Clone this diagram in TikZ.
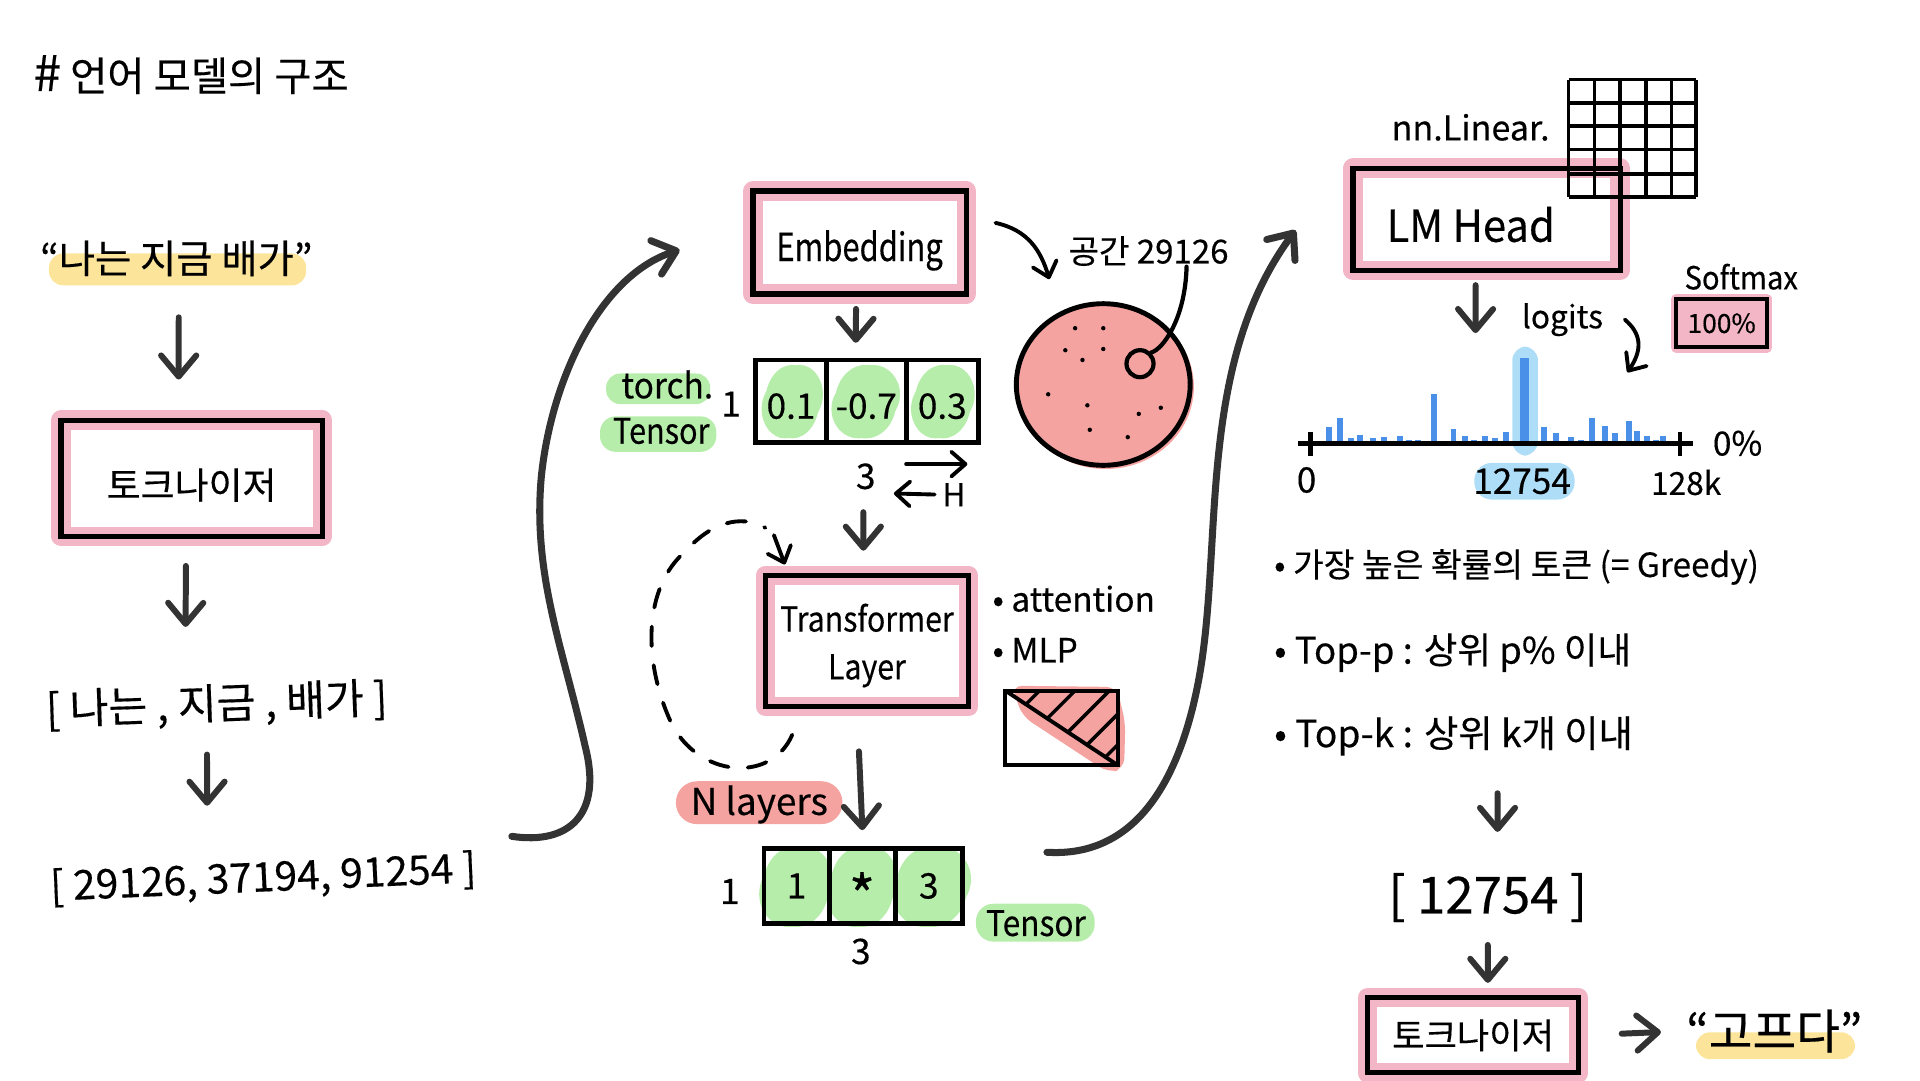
\documentclass[tikz,border=0pt]{standalone}
\usepackage{fontspec}
\setmainfont{Noto Sans CJK KR}[FakeBold=0.35]
\usetikzlibrary{arrows.meta}
\definecolor{softpink}{HTML}{F2B6C6}
\definecolor{salmon}{HTML}{F4A3A0}
\definecolor{softgreen}{HTML}{B7EDAA}
\definecolor{softyellow}{HTML}{FCE59A}
\definecolor{skyblue}{HTML}{AEDDF8}
\definecolor{barblue}{HTML}{4A90E8}
\definecolor{inkgray}{HTML}{333333}
\newcommand{\slimfont}[2]{\fontsize{#1}{#1}\selectfont\addfontfeature{FakeStretch=#2}}
\tikzset{
  >={Straight Barb[length=6pt,width=10pt,round]},
  hand/.style={inner sep=0pt,font=\fontsize{10}{12}\selectfont},
  pinkbox/.style={draw=black,line width=1.5pt,inner sep=0pt,preaction={draw=softpink,line width=5.5pt,line join=round}},
  cellbox/.style={draw=black,line width=1.4pt,inner sep=0pt,minimum height=.82cm,font=\fontsize{10}{12}\selectfont},
  arrowline/.style={->,draw=inkgray,line width=1.7pt,line cap=round},
  thinarrow/.style={->,draw=black,line width=1.1pt,line cap=round,>={Straight Barb[length=4pt,width=7pt,round]}},
}
\begin{document}
\begin{tikzpicture}[x=0.012245cm,y=-0.012245cm]
\useasboundingbox (0,0) rectangle (1568,882);
\fill [softyellow,rounded corners=4pt] (40,207) rectangle (250,233);
\fill [softyellow,rounded corners=4pt] (1385,843) rectangle (1515,865);
\fill [softgreen,rounded corners=4pt] (495,305) rectangle (580,330);
\fill [softgreen,rounded corners=4.5pt] (490,340) rectangle (585,369);
\fill [softgreen,rounded corners=5pt] (797,738) rectangle (894,769);
\fill [salmon,rounded corners=6pt] (552,638) rectangle (688,673);
\fill [skyblue,rounded corners=5pt] (1204,378) rectangle (1286,408);
\fill [skyblue,rounded corners=4pt] (1235,283) rectangle (1256,372);
\foreach \cx/\cy/\rw/\rh in {647/328/24/30,707/328/27/30,770/328/25/30,650/724/29/33,704/724/28/33,761/724/31/33}
{
  \fill [softgreen] (\cx-6,\cy+6) ellipse [x radius=\rw-5,y radius=\rh-6];
  \fill [softgreen] (\cx,\cy) ellipse [x radius=\rw-2,y radius=\rh];
  \fill [softgreen] (\cx+6,\cy-6) ellipse [x radius=\rw-5,y radius=\rh-6];
}

\node [hand,font=\fontsize{11.5}{14}\selectfont,anchor=west] (title) at (27,61) {{\fontsize{14}{14}\selectfont\#} 언어 모델의 구조};
\node [hand,font=\fontsize{11.2}{14}\selectfont] (quote) at (144,211) {“나는 지금 배가”};
\node [pinkbox,minimum width=2.61cm,minimum height=1.16cm,font=\fontsize{10.5}{13}\selectfont] (tokfirst) at (156.5,390.5) {\rule{0pt}{12.6pt}토크나이저};
\node [hand,font=\fontsize{12}{14}\selectfont,rotate=2] (wordlist) at (177,576) {[ 나는 , 지금 , 배가 ]};
\node [hand,font=\fontsize{11.6}{15}\selectfont,rotate=2.5] (idlist) at (215,718) {[ 29126, 37194, 91254 ]};

\node [pinkbox,minimum width=2.13cm,minimum height=1.03cm,font=\slimfont{11}{.8}] (embed) at (702,198) {\rule{0pt}{13.3pt}Embedding};
\node [cellbox,minimum width=.71cm] (cella) at (646,327.5) {\rule{0pt}{10.2pt}0.1};
\node [cellbox,minimum width=.80cm] (cellb) at (707.5,327.5) {\rule{0pt}{10.2pt}-0.7};
\node [cellbox,minimum width=.72cm] (cellc) at (769.5,327.5) {\rule{0pt}{10.2pt}0.3};
\node [hand,font=\slimfont{10}{.95}] (torchlabel) at (545,314) {torch.};
\node [hand,font=\slimfont{10}{.87}] (tensorlabel) at (540,352) {Tensor};
\node [hand] (rowone) at (597,330) {1};
\node [hand] (colthree) at (707,389) {3};
\node [hand,font=\fontsize{9}{11}\selectfont] (hlabel) at (779,404) {H};
\node [hand,font=\fontsize{9.4}{12}\selectfont] (spacenote) at (938,205) {공간 29126};
\coordinate (hstart) at (740,379);
\coordinate (hend) at (790,379);
\coordinate (hback) at (730,403);
\draw [thinarrow] (hstart) -- (hend);
\draw [thinarrow,shorten <=2pt] (hlabel.west) -- (hback);

\fill [salmon] (903,316) ellipse [x radius=72,y radius=67];
\draw [line width=1.4pt] (901,314) ellipse [x radius=71,y radius=66];
\foreach \px/\py in {878/268,901/268,870/286,901/285,884/294,856/322,888/331,948/333,930/338,890/351,921/357}
{
  \fill (\px,\py) circle [radius=1.8];
}
\node [circle,draw,line width=1.2pt,inner sep=0pt,minimum size=.27cm] (pickdot) at (931,297) {};
\draw [line width=1.2pt,line cap=round] ([xshift=10.8pt]spacenote.south) .. controls (968,260) and (950,285) .. (pickdot.north east);
\coordinate (arcstart) at (813,182);
\coordinate (arcend) at (857,228);
\draw [thinarrow] (arcstart) .. controls (840,188) and (850,205) .. (arcend);

\node [pinkbox,minimum width=2.03cm,minimum height=1.31cm,align=center,font=\slimfont{9.8}{.88}] (translayer) at (708,523.5) {\rule{0pt}{10.5pt}Transformer\\[3.8pt]Layer};
\node [hand,anchor=west,font=\fontsize{9.5}{12}\selectfont] (attn) at (810,489) {• attention};
\node [hand,anchor=west,font=\fontsize{9.5}{12}\selectfont] (mlp) at (810,531) {• MLP};
\fill [salmon,rounded corners=3pt] (826,560) -- (912,561) -- (919,590) -- (918,628) -- (905,631) -- (835,585) -- cycle;
\draw [line width=1.1pt] (821,564) rectangle (913,625);
\draw [line width=1.1pt] (821,564) -- (913,625);
\foreach \ax/\ay/\bx/\by in {838/575/849/564,855/587/878/564,872/598/906/564,888/608/913/583,903/618/913/608}
{
  \draw [line width=1pt] (\ax,\ay) -- (\bx,\by);
}
\node [hand,font=\fontsize{10.5}{13}\selectfont] (nlayers) at (620,657) {N layers};
\coordinate (loopstart) at (647,600);
\coordinate (loopend) at (625,431);
\coordinate (looptail) at (632,437);
\coordinate (loophead) at (641,461);
\draw [dashed,dash pattern=on 5.5pt off 5.5pt,line width=1.1pt,line cap=round] (loopstart) .. controls (630,640) and (570,635) .. (548,590) .. controls (525,540) and (525,480) .. (560,450) .. controls (585,422) and (610,422) .. (loopend);
\draw [thinarrow] (looptail) -- (loophead);

\node [cellbox,minimum width=.65cm,minimum height=.75cm] (cellx) at (650.5,723.5) {1};
\node [cellbox,minimum width=.66cm,minimum height=.75cm,font=\fontsize{16}{16}\selectfont] (celly) at (704,723.5) {\raisebox{-8.8pt}[0pt][0pt]{*}};
\node [cellbox,minimum width=.67cm,minimum height=.75cm] (cellz) at (758.5,723.5) {3};
\node [hand] (rowtwo) at (596,728) {1};
\node [hand] (coltwo) at (703,777) {3};
\node [hand,font=\slimfont{10}{.9}] (tensortwo) at (846,754) {Tensor};

\node [pinkbox,minimum width=2.67cm,minimum height=1.02cm,font=\slimfont{12.5}{.95}] (lmhead) at (1214,179) {\rule{0pt}{13pt}LM Head\rule{9pt}{0pt}};
\node [hand,font=\fontsize{9.7}{12}\selectfont] (linear) at (1201,104) {nn.Linear.};
\foreach \gx in {1281,1302,1323,1344,1365,1385}
{
  \draw [line width=1pt] (\gx,65) -- (\gx,161);
}
\foreach \gy in {65,84,103,122,142,161}
{
  \draw [line width=1pt] (1281,\gy) -- (1385,\gy);
}
\node [hand,font=\fontsize{9}{11}\selectfont] (logits) at (1276,261) {logits};
\node [hand,font=\slimfont{9}{.92}] (softmax) at (1422,226) {Softmax};
\node [draw=black,line width=1.2pt,fill=softpink,inner sep=0pt,preaction={draw=softpink,line width=3pt,line join=round},minimum width=.91cm,minimum height=.48cm,font=\fontsize{7.5}{9}\selectfont] (percent) at (1406,264) {100\%};
\coordinate (downtip) at (1205,272);
\coordinate (softtip) at (1329,304);
\draw [arrowline,shorten <=3.5pt] ([xshift=-3.1pt]lmhead.south) -- (downtip);
\draw [thinarrow] ([xshift=6pt]logits.east) .. controls (1340,272) and (1342,285) .. (softtip);

\foreach \bx/\bh in {1085/13,1094/21,1103/4,1111/7,1121/4,1130/5,1143/6,1151/3,1158/3,1171/40,1187/12,1196/6,1204/3,1213/6,1221/4,1230/9,1261/13,1271/8,1283/5,1291/3,1300/21,1311/14,1319/8,1330/18,1337/10,1345/6,1352/3,1358/6}
{
  \draw [barblue,line width=1.7pt] (\bx,362) -- (\bx,362-\bh);
}
\draw [barblue,line width=2.6pt] (1245,362) -- (1245,292);
\draw [line width=1.4pt] (1060,362) -- (1383,362);
\draw [line width=1.4pt] (1070,353) -- (1070,372);
\draw [line width=1.4pt] (1372,353) -- (1372,372);
\node [hand] (zero) at (1067,392) {0};
\node [hand] (peakid) at (1243,393) {12754};
\node [hand,font=\fontsize{9}{11}\selectfont] (maxid) at (1377,394) {128k};
\node [hand,font=\fontsize{9.5}{11}\selectfont] (zeropct) at (1419,362) {0\%};

\node [hand,anchor=west,font=\fontsize{9.5}{12}\selectfont] (greedy) at (1040,463) {• 가장 높은 확률의 토큰 (= Greedy)};
\node [hand,anchor=west,font=\fontsize{10.4}{13}\selectfont] (topp) at (1040,533) {• Top-p : 상위 p\% 이내};
\node [hand,anchor=west,font=\fontsize{10.6}{13}\selectfont] (topk) at (1040,601) {• Top-k : 상위 k개 이내};
\node [hand,font=\fontsize{14.5}{17}\selectfont] (result) at (1215,733) {[ 12754 ]};
\node [pinkbox,minimum width=2.11cm,minimum height=.75cm,font=\fontsize{10}{12}\selectfont] (toksecond) at (1203,845.5) {토크나이저};
\node [hand,font=\fontsize{13.5}{16}\selectfont] (answer) at (1449,842) {“고프다”};

\draw [arrowline,shorten <=11.5pt,shorten >=10.8pt] ([xshift=.7pt]quote.south) -- ([xshift=-3.7pt]tokfirst.north);
\draw [arrowline,shorten <=7.7pt,shorten >=16pt] ([xshift=-1.6pt]tokfirst.south) -- ([xshift=-8.7pt]wordlist.north);
\draw [arrowline,shorten <=7.7pt,shorten >=15pt] ([xshift=-3pt]wordlist.south) -- ([xshift=-15.7pt]idlist.north);
\draw [arrowline,shorten <=3.5pt,shorten >=4.2pt] ([xshift=-1pt]embed.south) -- ([xshift=-3pt]cellb.north);
\draw [arrowline,shorten <=6.3pt,shorten >=6.3pt] ([xshift=-.7pt]colthree.south) -- ([xshift=-1pt]translayer.north);
\draw [arrowline,shorten <=12pt,shorten >=4.5pt] ([xshift=-2.8pt]translayer.south) -- ([xshift=.3pt]celly.north);
\draw [arrowline,shorten <=10.5pt,shorten >=11.5pt] ([xshift=12.5pt]topk.south) -- ([xshift=2.8pt]result.north);
\draw [arrowline,shorten <=6.3pt,shorten >=3.5pt] (result.south) -- ([xshift=4.2pt]toksecond.north);
\draw [arrowline,shorten <=11.5pt,shorten >=7pt] (toksecond.east) -- (answer.west);

\coordinate (riseastart) at (418,683);
\coordinate (riseaend) at (555,204);
\coordinate (risebstart) at (855,696);
\coordinate (risebend) at (1058,188);
\draw [arrowline,line width=2pt] (riseastart) .. controls (465,690) and (492,665) .. (478,610) .. controls (460,530) and (435,470) .. (442,390) .. controls (450,310) and (490,225) .. (riseaend);
\draw [arrowline,line width=2pt] (risebstart) .. controls (920,700) and (960,650) .. (978,560) .. controls (1000,450) and (975,300) .. (risebend);
\end{tikzpicture}
\end{document}
